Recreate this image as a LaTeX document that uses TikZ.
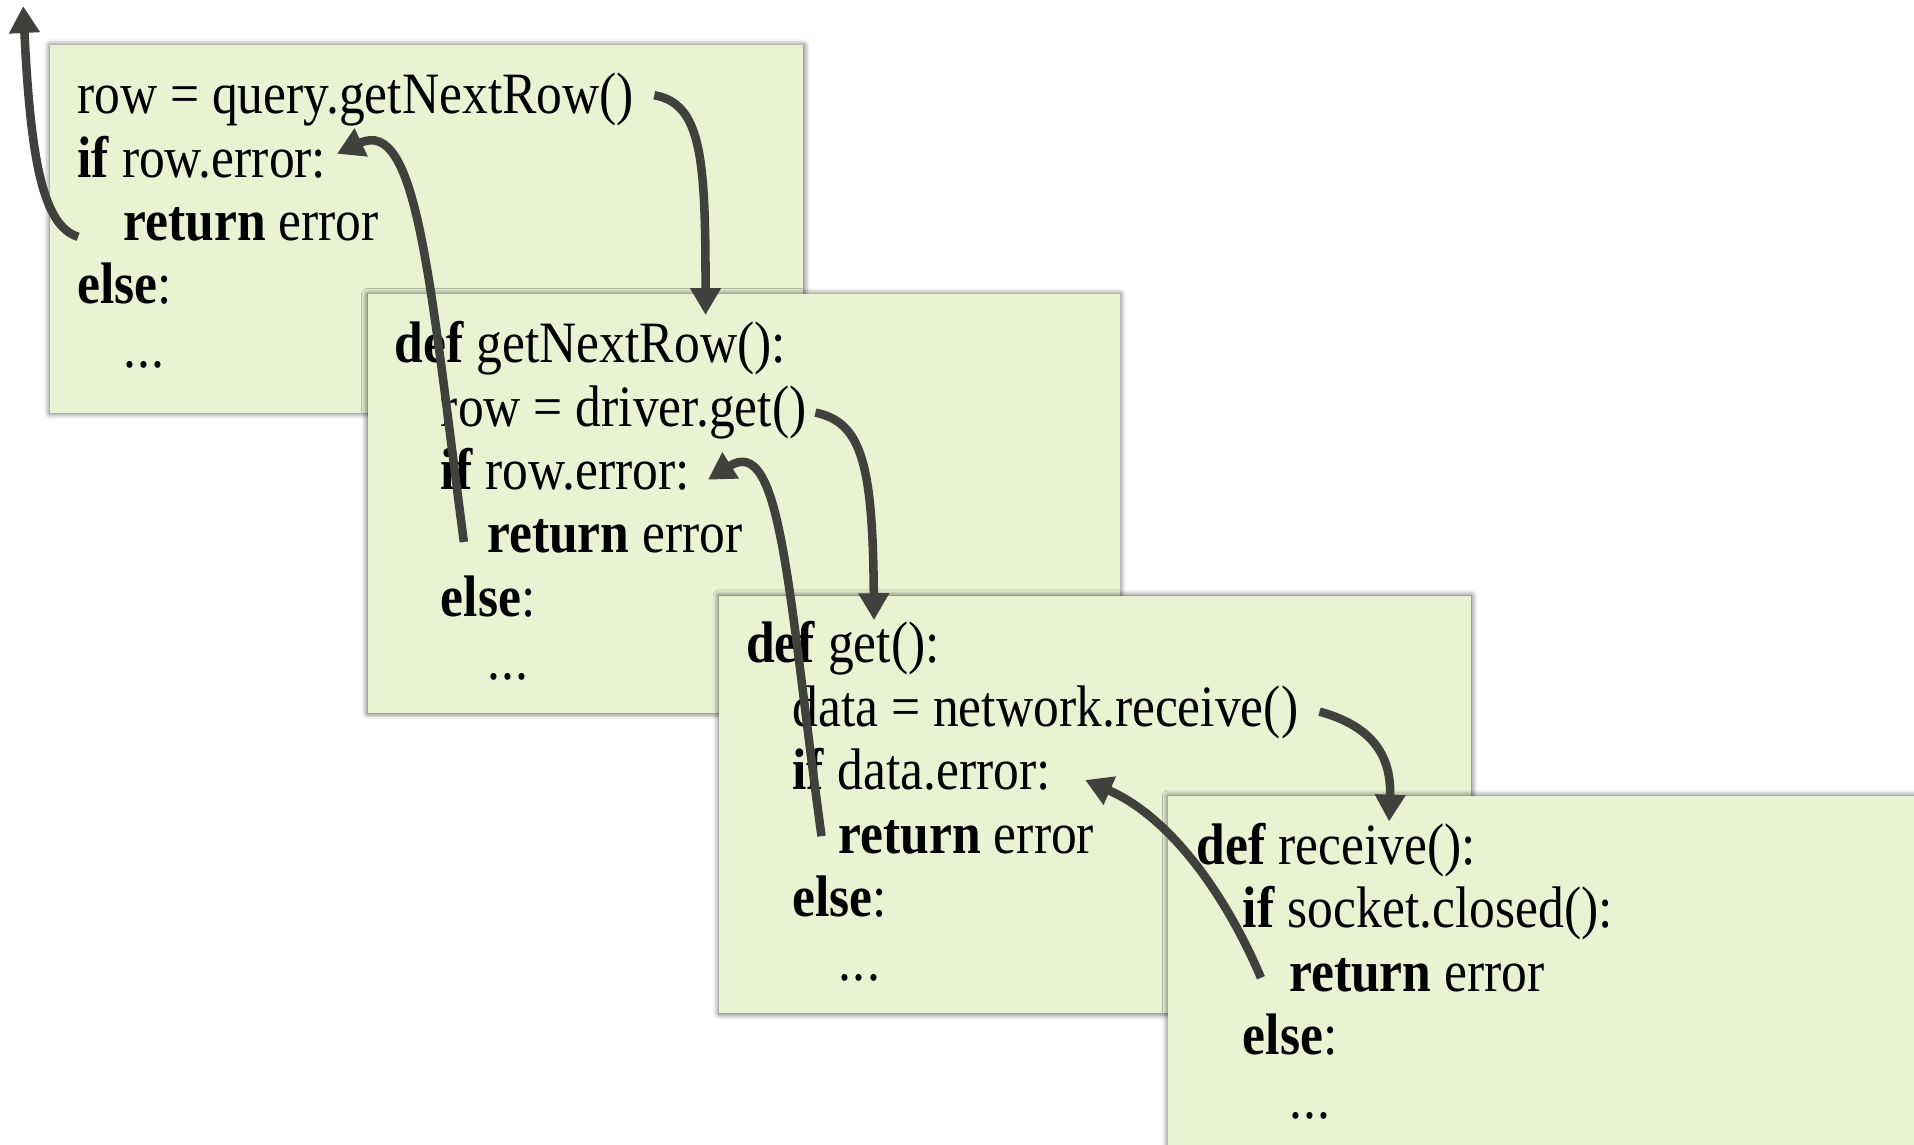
\documentclass[tikz,border=0pt]{standalone}
\usepackage{fontspec}
\setmainfont[FakeStretch=0.88]{Liberation Serif}
\usetikzlibrary{arrows.meta,shadows.blur,calc}
\definecolor{boxfill}{RGB}{234,242,212}
\definecolor{arrowgray}{RGB}{64,64,60}
\begin{document}
\begin{tikzpicture}[x=1pt,y=-1pt,
  codebox/.style={draw=none, fill=boxfill, rectangle, inner sep=0pt, anchor=north west,
    blur shadow={shadow xshift=0pt, shadow yshift=0pt, shadow blur radius=5pt, shadow opacity=75}},
  codeline/.style={anchor=base west, inner sep=0pt, font=\fontsize{48}{52}\selectfont},
  flow/.style={draw=arrowgray, line width=7pt, -{Triangle[length=22pt,width=24pt]}}
]
\useasboundingbox (0,0) rectangle (1568,938);
\clip (0,0) rectangle (1568,938);

% box 1
\node[codebox, minimum width=617pt, minimum height=301pt] (b1) at (41,37) {};
\node[codeline] (t11) at (63,93)  {row = query.getNextRow()};
\node[codeline] (t12) at (63,145) {\textbf{if} row.error:};
\node[codeline] (t13) at (101,197) {\textbf{return} error};
\node[codeline] (t14) at (63,249) {\textbf{else}:};
\node[codeline] (t15) at (101,301) {.\kern1pt.\kern1pt.};

% box 2
\node[codebox, minimum width=616pt, minimum height=343pt] (b2) at (301,241) {};
\node[codeline] (t21) at (323,297) {\textbf{def} getNextRow():};
\node[codeline] (t22) at (361,349) {row = driver.get()};
\node[codeline] (t23) at (361,401) {\textbf{if} row.error:};
\node[codeline] (t24) at (399,453) {\textbf{return} error};
\node[codeline] (t25) at (361,505) {\textbf{else}:};
\node[codeline] (t26) at (399,557) {.\kern1pt.\kern1pt.};

% box 3
\node[codebox, minimum width=616pt, minimum height=342pt] (b3) at (589,488) {};
\node[codeline] (t31) at (611,543) {\textbf{def} get():};
\node[codeline] (t32) at (649,595) {data = network.receive()};
\node[codeline] (t33) at (649,647) {\textbf{if} data.error:};
\node[codeline] (t34) at (687,699) {\textbf{return} error};
\node[codeline] (t35) at (649,751) {\textbf{else}:};
\node[codeline] (t36) at (687,803) {.\kern1pt.\kern1pt.};

% box 4
\node[codebox, minimum width=640pt, minimum height=320pt] (b4) at (957,652) {};
\node[codeline] (t41) at (980,708) {\textbf{def} receive():};
\node[codeline] (t42) at (1018,760) {\textbf{if} socket.closed():};
\node[codeline] (t43) at (1056,812) {\textbf{return} error};
\node[codeline] (t44) at (1018,864) {\textbf{else}:};
\node[codeline] (t45) at (1056,916) {.\kern1pt.\kern1pt.};

% arrows
\coordinate (exit) at (19,5);
\draw[flow] ($(t13.base west)+(-37,-3)$) .. controls (35,185) and (25,130) .. (exit);
\draw[flow] ($(t11.base west)+(473,-15)$) .. controls (575,85) and (578,130) .. ($(b2.north west)+(277,17)$);
\draw[flow] ($(t24.base west)+(-19,-9)$) .. controls (352,230) and (342,95) .. ($(t12.base west)+(213,-19)$);
\draw[flow] ($(t22.base west)+(307,-11)$) .. controls (706,346) and (715,380) .. ($(b3.north west)+(127,20)$);
\draw[flow] ($(t34.base west)+(-14,-14)$) .. controls (645,480) and (640,355) .. ($(t23.base west)+(219,-8)$);
\draw[flow] ($(t32.base west)+(432,-12)$) .. controls (1125,595) and (1140,620) .. ($(b4.north west)+(181,21)$);
\draw[flow] ($(t43.base west)+(-23,-11)$) .. controls (1005,735) and (960,670) .. ($(t33.base west)+(240,-8)$);
\end{tikzpicture}
\end{document}
